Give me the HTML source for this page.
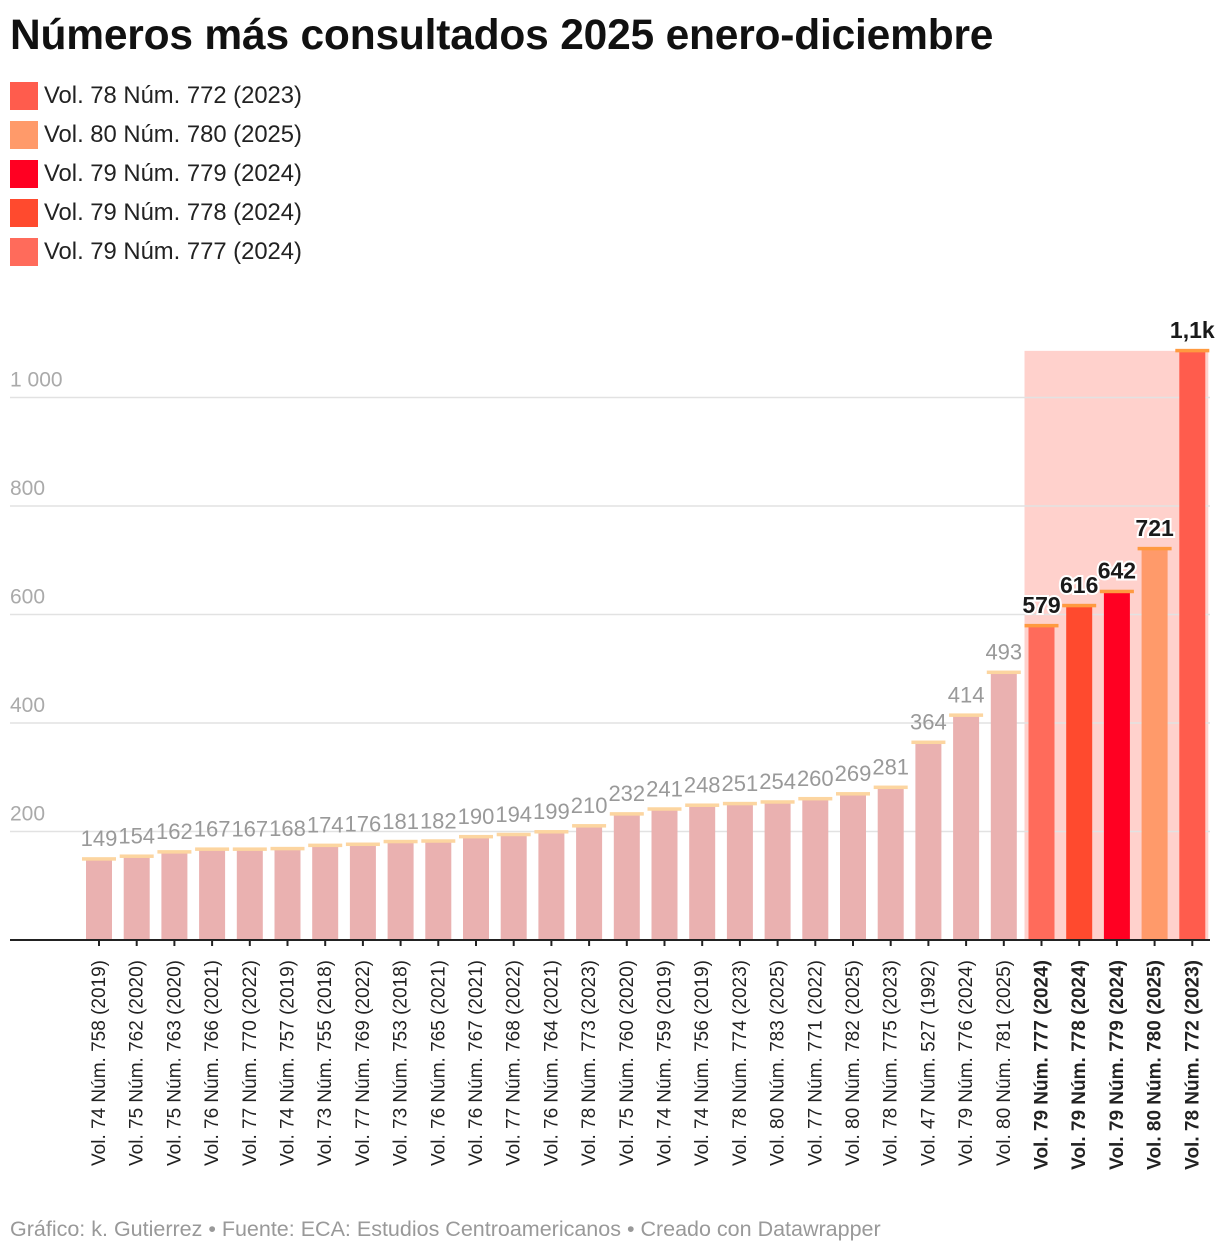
<!DOCTYPE html>
<html><head><meta charset="utf-8"><style>
body{margin:0;background:#fff;font-family:"Liberation Sans",Roboto,sans-serif;}
#wrap{position:relative;width:1220px;height:1254px;}
h1{position:absolute;left:10px;top:12px;margin:0;font-size:42.5px;font-weight:bold;color:#111;letter-spacing:-0.2px}
.leg{position:absolute;left:10px;display:flex;align-items:center;font-size:23.8px;color:#222}
.leg span.sw{width:28px;height:28px;margin-right:6px;display:inline-block}
#foot{position:absolute;left:10px;top:1217px;font-size:21.5px;color:#999}
</style></head><body>
<div id="wrap">
<h1>Números más consultados 2025 enero-diciembre</h1>
<div class="leg" style="top:82px"><span class="sw" style="background:#ff5c4d"></span>Vol. 78 Núm. 772 (2023)</div>
<div class="leg" style="top:121px"><span class="sw" style="background:#ff9a6a"></span>Vol. 80 Núm. 780 (2025)</div>
<div class="leg" style="top:160px"><span class="sw" style="background:#ff0022"></span>Vol. 79 Núm. 779 (2024)</div>
<div class="leg" style="top:199px"><span class="sw" style="background:#ff4a2e"></span>Vol. 79 Núm. 778 (2024)</div>
<div class="leg" style="top:238px"><span class="sw" style="background:#ff6b5b"></span>Vol. 79 Núm. 777 (2024)</div>
<svg id="chart" width="1220" height="1254" style="position:absolute;left:0;top:0"></svg>
<div id="foot">Gráfico: k. Gutierrez • Fuente: ECA: Estudios Centroamericanos • Creado con Datawrapper</div>
</div>
<script>
const categories=["Vol. 74 Núm. 758 (2019)","Vol. 75 Núm. 762 (2020)","Vol. 75 Núm. 763 (2020)","Vol. 76 Núm. 766 (2021)","Vol. 77 Núm. 770 (2022)","Vol. 74 Núm. 757 (2019)","Vol. 73 Núm. 755 (2018)","Vol. 77 Núm. 769 (2022)","Vol. 73 Núm. 753 (2018)","Vol. 76 Núm. 765 (2021)","Vol. 76 Núm. 767 (2021)","Vol. 77 Núm. 768 (2022)","Vol. 76 Núm. 764 (2021)","Vol. 78 Núm. 773 (2023)","Vol. 75 Núm. 760 (2020)","Vol. 74 Núm. 759 (2019)","Vol. 74 Núm. 756 (2019)","Vol. 78 Núm. 774 (2023)","Vol. 80 Núm. 783 (2025)","Vol. 77 Núm. 771 (2022)","Vol. 80 Núm. 782 (2025)","Vol. 78 Núm. 775 (2023)","Vol. 47 Núm. 527 (1992)","Vol. 79 Núm. 776 (2024)","Vol. 80 Núm. 781 (2025)","Vol. 79 Núm. 777 (2024)","Vol. 79 Núm. 778 (2024)","Vol. 79 Núm. 779 (2024)","Vol. 80 Núm. 780 (2025)","Vol. 78 Núm. 772 (2023)"];
const values=[149,154,162,167,167,168,174,176,181,182,190,194,199,210,232,241,248,251,254,260,269,281,364,414,493,579,616,642,721,1086];
const valueLabels=["149","154","162","167","167","168","174","176","181","182","190","194","199","210","232","241","248","251","254","260","269","281","364","414","493","579","616","642","721","1,1k"];
const highlightColors=["#ff6b5b","#ff4a2e","#ff0022","#ff9a6a","#ff5c4d"];
const yTicks=[200,400,600,800,1000];
const yTickLabels=["200","400","600","800","1 000"];

const NS="http://www.w3.org/2000/svg";
const svg=document.getElementById("chart");
const y0=940,k=0.5425,x0=99,step=37.7,bw=26;
const Y=v=>y0-v*k, X=i=>x0+i*step;
function mk(t,a){const e=document.createElementNS(NS,t);for(const n in a)e.setAttribute(n,a[n]);svg.appendChild(e);return e;}
const nHi=highlightColors.length, firstHi=values.length-nHi;
const hbx=X(firstHi)-bw/2-4, hbx2=X(values.length-1)+bw/2+3;
let hb=mk("rect",{x:hbx,y:Y(values[values.length-1]),width:hbx2-hbx,height:y0-Y(values[values.length-1]),fill:"#ffd1cc"});


yTicks.forEach((t,i)=>{
  let l=mk("line",{x1:10,x2:1210,y1:Y(t),y2:Y(t),stroke:"#e2e2e2","stroke-width":1.5});
  
  
  let tx=mk("text",{x:10,y:Y(t)-11,fill:"#aaa","font-size":21});
  tx.textContent=yTickLabels[i];
  
  
});
values.forEach((v,i)=>{
  const hi=i>=firstHi, cx=X(i);
  const col=hi?highlightColors[i-firstHi]:"#eab1b0";
  let b=mk("rect",{x:cx-bw/2,y:Y(v),width:bw,height:y0-Y(v),fill:col});
  
  
  let c=mk("rect",{x:cx-17,y:Y(v)-2,width:34,height:3.5,fill:hi?"#ff9a40":"#fcd5a0"});
  
  
  let t=mk("text",{x:cx,y:Y(v)-13,"text-anchor":"middle","font-size":hi?23:22,fill:hi?"#1a1a1a":"#999","font-weight":hi?"bold":"normal",stroke:"#fff","stroke-width":hi?4:0,"paint-order":"stroke"});
  t.textContent=valueLabels[i];
  
  
  let tk=mk("line",{x1:cx,x2:cx,y1:y0,y2:y0+6,stroke:"#222","stroke-width":2});
  
  
  let lb=mk("text",{x:0,y:0,"text-anchor":"end","font-size":19,fill:"#222","font-weight":hi?"bold":"normal",transform:`translate(${cx+6},960) rotate(-90)`});
  lb.textContent=categories[i];
  
  
});
let ax=mk("line",{x1:10,x2:1210,y1:y0,y2:y0,stroke:"#222","stroke-width":2});


</script>
</body></html>
